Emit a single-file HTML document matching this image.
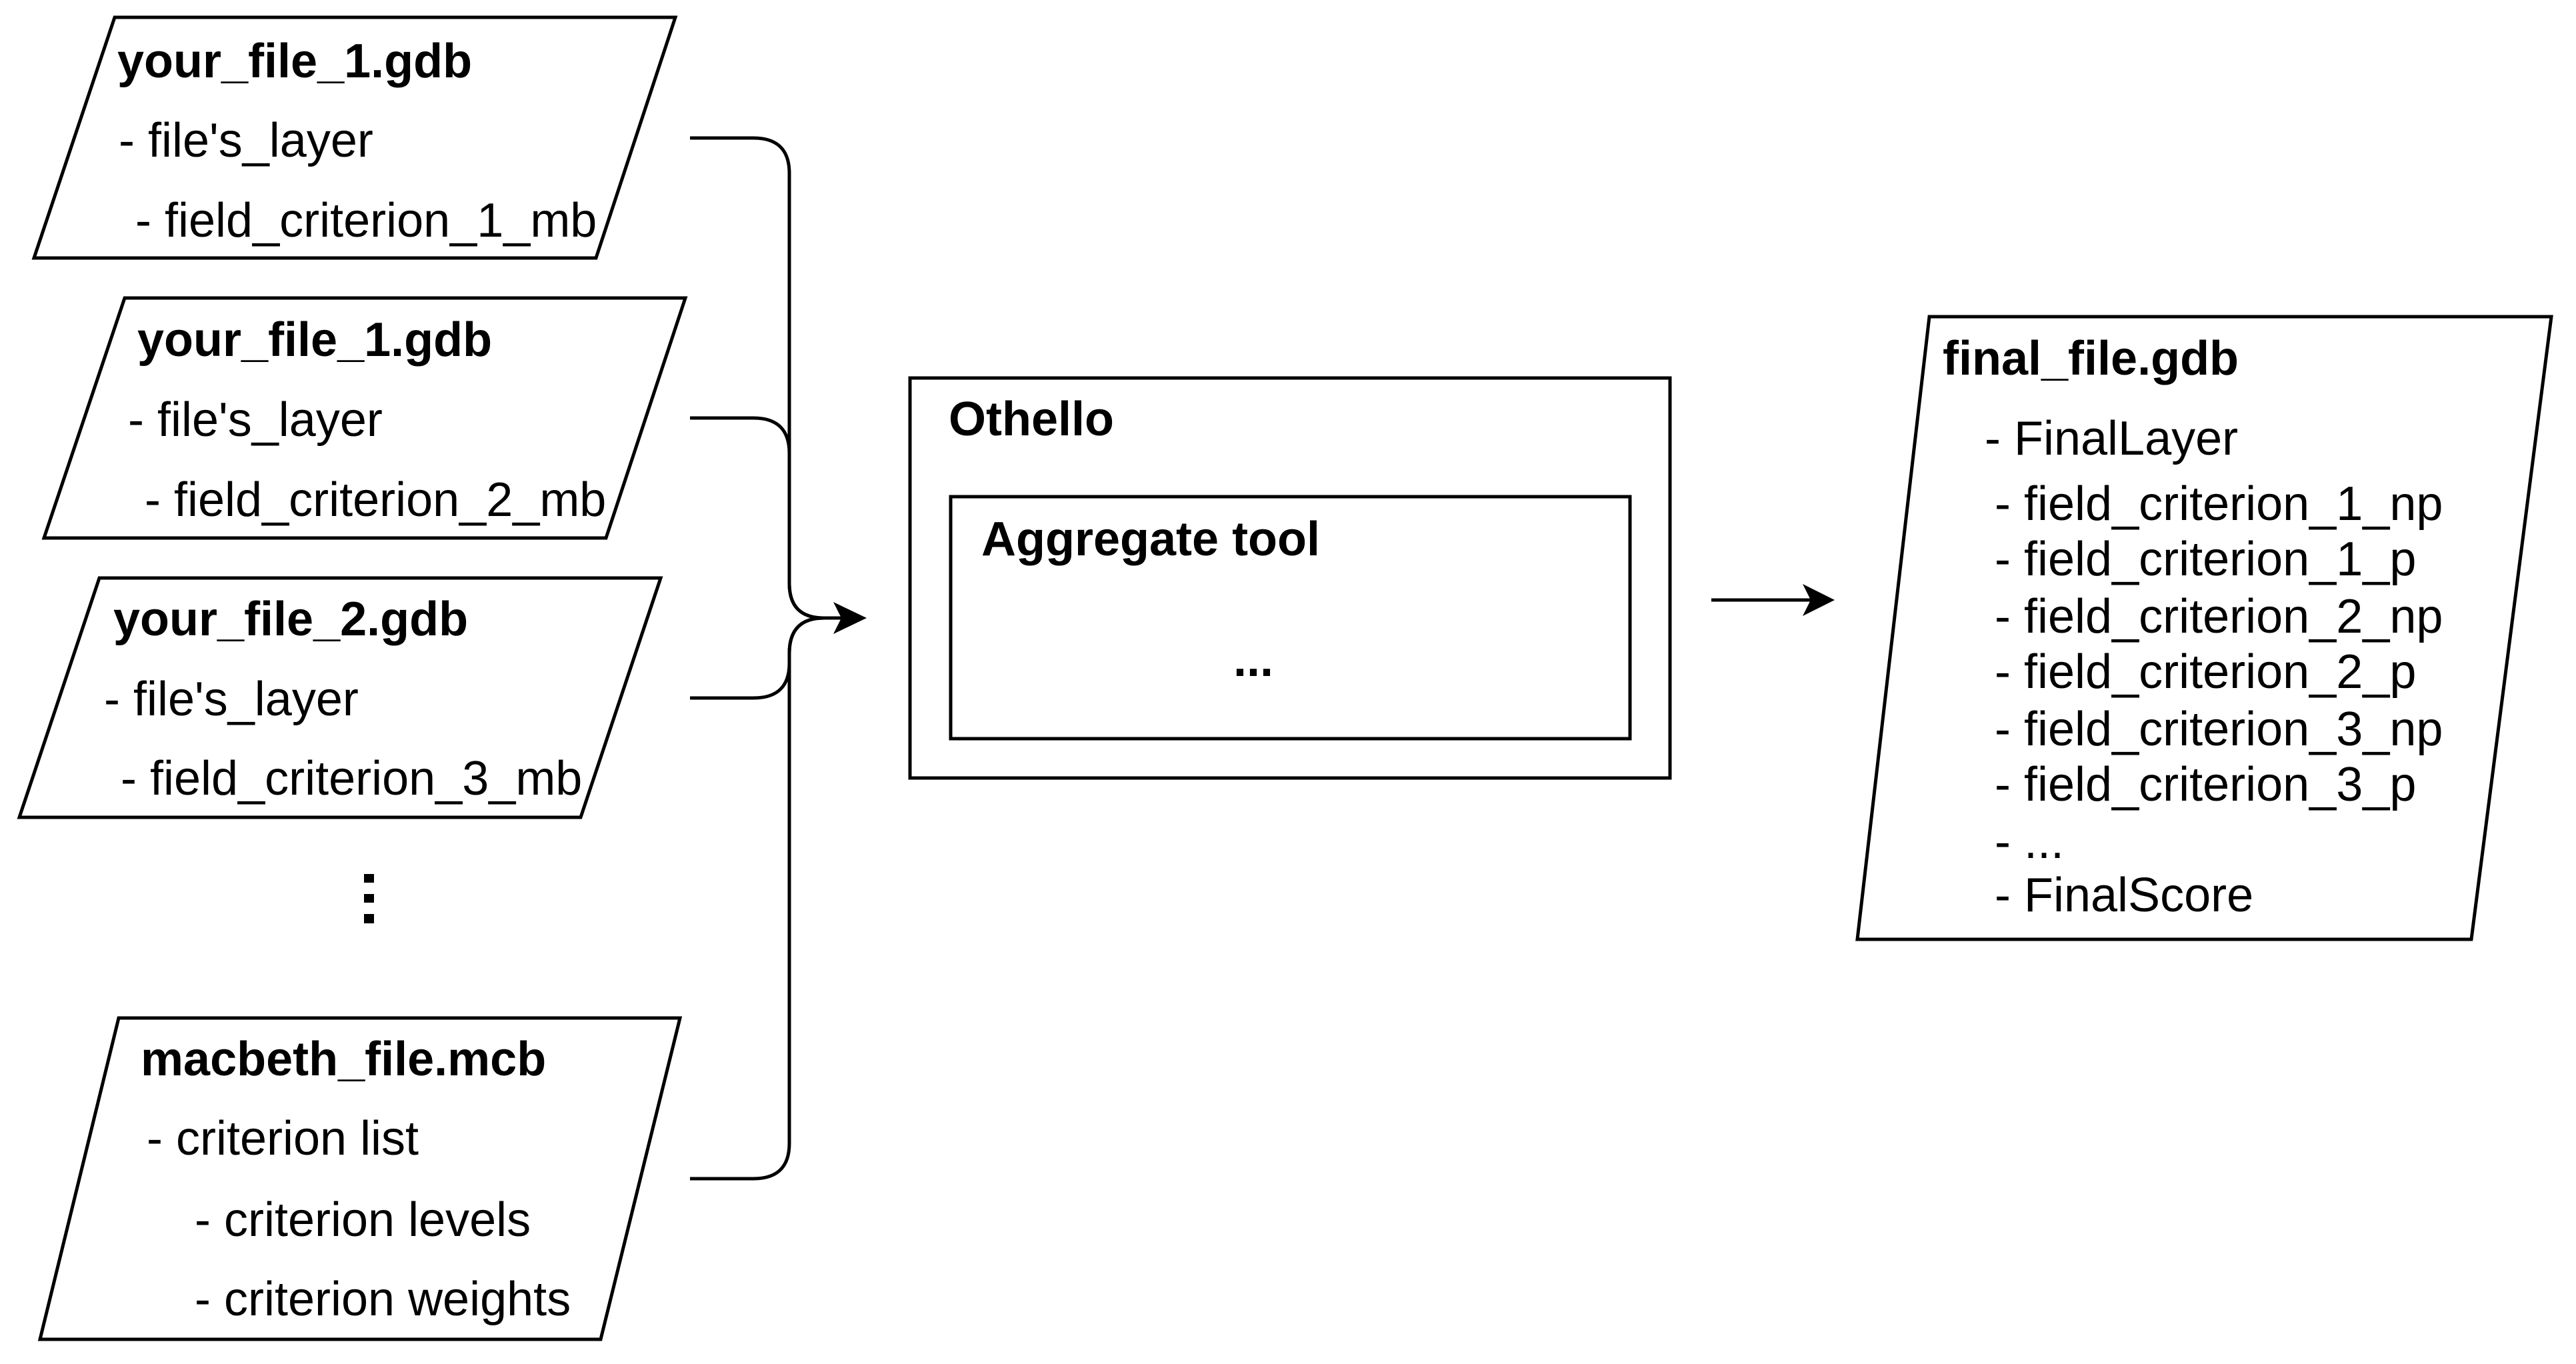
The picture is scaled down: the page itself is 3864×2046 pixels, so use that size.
<!DOCTYPE html>
<html><head><meta charset="utf-8"><style>
html,body{margin:0;padding:0;background:#fff;}
svg{display:block;}
text{font-family:"Liberation Sans",Arial,sans-serif;font-size:72px;fill:#000;}
.b{font-weight:bold;}
</style></head><body>
<svg width="3864" height="2046" viewBox="0 0 3864 2046" xmlns="http://www.w3.org/2000/svg">
<g fill="#fff" stroke="#000" stroke-width="5" stroke-linejoin="miter">
<polygon points="172,26 1013,26 894,387 51,387"/>
<polygon points="187,447 1028,447 909,807 66,807"/>
<polygon points="149,867 991,867 871,1226 29,1226"/>
<polygon points="178,1527 1020,1527 901,2009 60,2009"/>
<polygon points="2894,475 3827,475 3707,1409 2786,1409"/>
<rect x="1365" y="567" width="1140" height="600"/>
<rect x="1426" y="745" width="1019" height="363"/>
</g>
<g fill="none" stroke="#000" stroke-width="5">
<path d="M1035,207 H1130 Q1184,207 1184,260 V875 Q1184,927 1236,927 H1262"/>
<path d="M1035,627 H1130 Q1184,627 1184,680 V875 Q1184,927 1236,927"/>
<path d="M1035,1047 H1130 Q1184,1047 1184,995 V980 Q1184,927 1236,927"/>
<path d="M1035,1768 H1130 Q1184,1768 1184,1715 V980 Q1184,927 1236,927"/>
<path d="M2567,900 H2720"/>
</g>
<polygon points="1300,927 1250,903 1262,927 1250,951" fill="#000"/>
<polygon points="2752,900 2704,876 2716,900 2704,924" fill="#000"/>
<g fill="#000">
<rect x="546" y="1311" width="15" height="13"/>
<rect x="546" y="1341" width="15" height="13"/>
<rect x="546" y="1371" width="15" height="14"/>
</g>
<text class="b" x="176" y="116">your_file_1.gdb</text>
<text x="178" y="235">- file's_layer</text>
<text x="203" y="355">- field_criterion_1_mb</text>
<text class="b" x="206" y="534">your_file_1.gdb</text>
<text x="192" y="654">- file's_layer</text>
<text x="217" y="774">- field_criterion_2_mb</text>
<text class="b" x="170" y="953">your_file_2.gdb</text>
<text x="156" y="1073">- file's_layer</text>
<text x="181" y="1192">- field_criterion_3_mb</text>
<text class="b" x="211" y="1613">macbeth_file.mcb</text>
<text x="220" y="1732">- criterion list</text>
<text x="292" y="1854">- criterion levels</text>
<text x="292" y="1973">- criterion weights</text>
<text class="b" x="1423" y="653">Othello</text>
<text class="b" x="1472" y="833">Aggregate tool</text>
<text class="b" x="1850" y="1014">...</text>
<text class="b" x="2914" y="562">final_file.gdb</text>
<text x="2977" y="682">- FinalLayer</text>
<text x="2992" y="780">- field_criterion_1_np</text>
<text x="2992" y="863">- field_criterion_1_p</text>
<text x="2992" y="949">- field_criterion_2_np</text>
<text x="2992" y="1032">- field_criterion_2_p</text>
<text x="2992" y="1118">- field_criterion_3_np</text>
<text x="2992" y="1201">- field_criterion_3_p</text>
<text x="2992" y="1287">- ...</text>
<text x="2992" y="1367">- FinalScore</text>
</svg>
</body></html>
